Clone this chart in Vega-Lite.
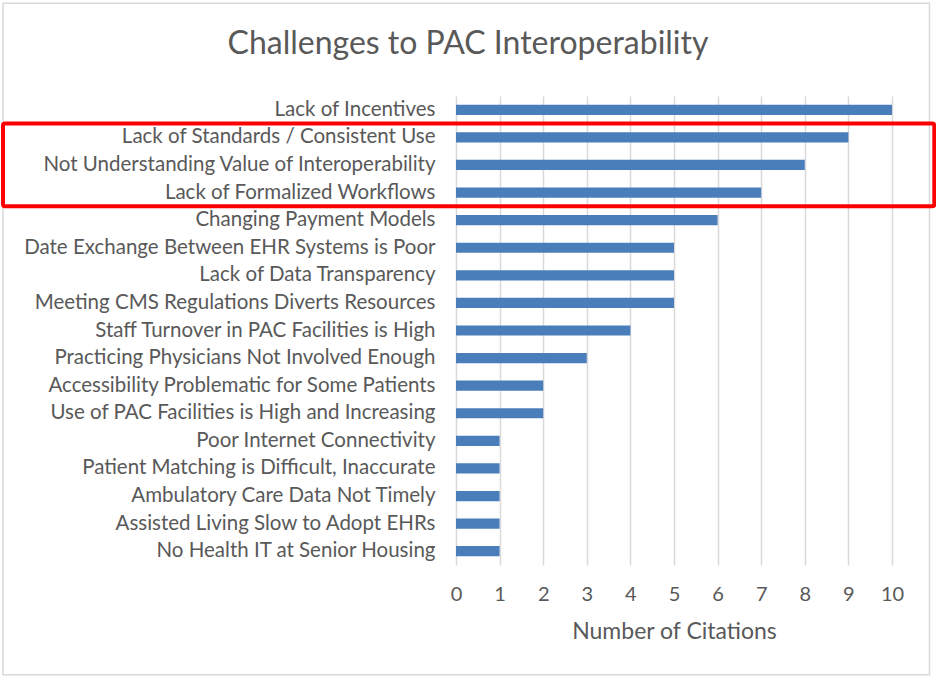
{
  "$schema": "https://vega.github.io/schema/vega-lite/v6.json",
  "autosize": {"type": "none"},
  "padding": {"left": 456, "top": 96, "right": 44, "bottom": 115},
  "width": 436,
  "height": 469,
  "background": "white",
  "config": {"view": {"stroke": null}, "font": "Lato"},
  "title": {
    "text": "Challenges to PAC Interoperability",
    "font": "Lato",
    "fontSize": 32,
    "fontWeight": "normal",
    "color": "#595959",
    "anchor": "middle",
    "frame": "group",
    "baseline": "alphabetic",
    "dx": -206,
    "offset": -84
  },
  "layer": [
    {
      "data": {"values": [{"x0": -10.39, "x1": 10.86, "y0": 1.198, "y1": -0.234}]},
      "mark": {"type": "rect", "fill": null, "stroke": "#d9d9d9", "strokeWidth": 1.5, "clip": false},
      "encoding": {
        "x": {"field": "x0", "type": "quantitative", "title": "Number of Citations"},
        "x2": {"field": "x1"},
        "y": {"field": "y0", "type": "quantitative", "scale": {"domain": [0, 1], "nice": false}, "axis": null},
        "y2": {"field": "y1"}
      }
    },
    {
      "data": {"values": [
        {"challenge": "Lack of Incentives", "citations": 10},
        {"challenge": "Lack of Standards / Consistent Use", "citations": 9},
        {"challenge": "Not Understanding Value of Interoperability", "citations": 8},
        {"challenge": "Lack of Formalized Workflows", "citations": 7},
        {"challenge": "Changing Payment Models", "citations": 6},
        {"challenge": "Date Exchange Between EHR Systems is Poor", "citations": 5},
        {"challenge": "Lack of Data Transparency", "citations": 5},
        {"challenge": "Meeting CMS Regulations Diverts Resources", "citations": 5},
        {"challenge": "Staff Turnover in PAC Facilities is High", "citations": 4},
        {"challenge": "Practicing Physicians Not Involved Enough", "citations": 3},
        {"challenge": "Accessibility Problematic for Some Patients", "citations": 2},
        {"challenge": "Use of PAC Facilities is High and Increasing", "citations": 2},
        {"challenge": "Poor Internet Connectivity", "citations": 1},
        {"challenge": "Patient Matching is Difficult, Inaccurate", "citations": 1},
        {"challenge": "Ambulatory Care Data Not Timely", "citations": 1},
        {"challenge": "Assisted Living Slow to Adopt EHRs", "citations": 1},
        {"challenge": "No Health IT at Senior Housing", "citations": 1}
      ]},
      "mark": {"type": "bar", "color": "#4a7ebb", "height": {"band": 0.37}},
      "encoding": {
        "y": {
          "field": "challenge", "type": "nominal", "sort": null,
          "scale": {"paddingInner": 0, "paddingOuter": 0},
          "axis": {
            "title": null, "domain": false, "ticks": false,
            "labelFont": "Lato", "labelFontSize": 20.5, "labelColor": "#595959",
            "labelPadding": 21, "labelLimit": 600
          }
        },
        "x": {
          "field": "citations", "type": "quantitative",
          "title": "Number of Citations",
          "scale": {"domain": [0, 10], "nice": false},
          "axis": {
            "values": [0,1,2,3,4,5,6,7,8,9,10],
            "grid": true, "gridColor": "#d9d9d9", "gridWidth": 1.5,
            "domain": false, "ticks": false, "labelFlush": false,
            "labelFont": "Lato", "labelFontSize": 20, "labelColor": "#595959",
            "labelPadding": 19,
            "titleFont": "Lato", "titleFontSize": 23, "titleFontWeight": "normal",
            "titleColor": "#595959", "titlePadding": 16
          }
        }
      }
    },
    {
      "data": {"values": [{"top": "Lack of Standards / Consistent Use", "bottom": "Lack of Formalized Workflows", "x0": -10.39, "x1": 10.97}]},
      "mark": {"type": "rect", "fill": null, "stroke": "#ff0000", "strokeWidth": 4, "cornerRadius": 2, "clip": false},
      "encoding": {
        "y": {
          "field": "top", "type": "nominal", "bandPosition": 0, "axis": null,
          "scale": {"paddingInner": 0, "paddingOuter": 0, "domain": [
            "Lack of Incentives",
            "Lack of Standards / Consistent Use",
            "Not Understanding Value of Interoperability",
            "Lack of Formalized Workflows",
            "Changing Payment Models",
            "Date Exchange Between EHR Systems is Poor",
            "Lack of Data Transparency",
            "Meeting CMS Regulations Diverts Resources",
            "Staff Turnover in PAC Facilities is High",
            "Practicing Physicians Not Involved Enough",
            "Accessibility Problematic for Some Patients",
            "Use of PAC Facilities is High and Increasing",
            "Poor Internet Connectivity",
            "Patient Matching is Difficult, Inaccurate",
            "Ambulatory Care Data Not Timely",
            "Assisted Living Slow to Adopt EHRs",
            "No Health IT at Senior Housing"
          ]}
        },
        "y2": {"field": "bottom", "bandPosition": 1},
        "x": {"field": "x0", "type": "quantitative", "title": "Number of Citations"},
        "x2": {"field": "x1"}
      }
    }
  ],
  "resolve": {"scale": {"y": "independent"}, "axis": {"y": "independent"}}
}
